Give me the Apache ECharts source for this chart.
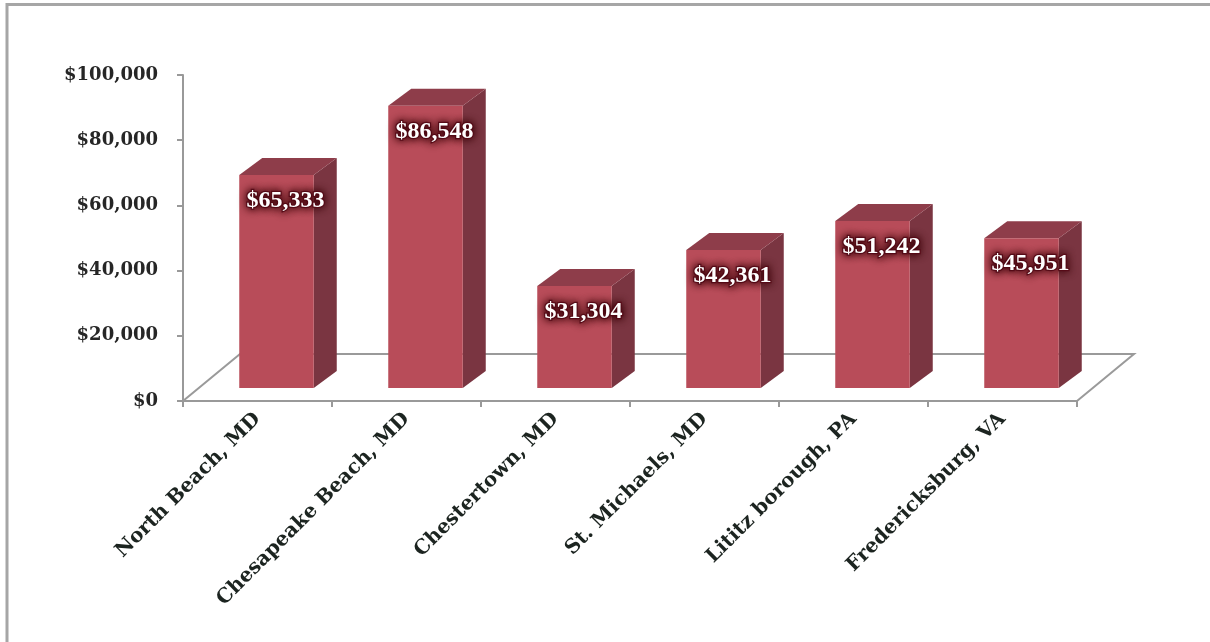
<!DOCTYPE html>
<html>
<head>
<meta charset="utf-8">
<script src="https://cdn.jsdelivr.net/npm/echarts@6/dist/echarts.min.js"></script>
<style>html,body{margin:0;padding:0;background:#fff;}#chart{width:1210px;height:642px;}</style>
</head>
<body>
<div id="chart"></div>
<script>
const categories = ['North Beach, MD', 'Chesapeake Beach, MD', 'Chestertown, MD', 'St. Michaels, MD', 'Lititz borough, PA', 'Fredericksburg, VA'];
const values = [65333, 86548, 31304, 42361, 51242, 45951];
const yTicks = [0, 20000, 40000, 60000, 80000, 100000];

const chart = echarts.init(document.getElementById('chart'));
const fmt = v => '$' + v.toLocaleString('en-US');

const DX = 23, DY = -17;      // bar depth offset
const FDX = 57, FDY = -47;    // floor depth offset
const SHIFT_X = 19, SHIFT_Y = -13;

function renderBar(params, api) {
  const idx = api.value(0), v = api.value(1);
  const top = api.coord([idx, v]);
  const base = api.coord([idx, 0]);
  const bw = api.size([1, 0])[0] * 0.5;
  const cx = top[0] + SHIFT_X;
  const x0 = cx - bw / 2, x1 = cx + bw / 2;
  const yb = base[1] + SHIFT_Y, yt = top[1] + SHIFT_Y;
  return {
    type: 'group',
    children: [
      { type: 'polygon', shape: { points: [[x1, yb], [x1 + DX, yb + DY], [x1 + DX, yt + DY], [x1, yt]] },
        style: { fill: '#7a3541' } },
      { type: 'polygon', shape: { points: [[x0, yt], [x0 + DX, yt + DY], [x1 + DX, yt + DY], [x1, yt]] },
        style: { fill: '#8e3d4a' } },
      { type: 'rect', shape: { x: x0, y: yt, width: bw, height: yb - yt },
        style: { fill: '#b84c59' } },
      { type: 'text', x: cx + 9, y: yt + 26,
        style: { text: fmt(v), fill: '#ffffff', font: 'bold 24px "Liberation Serif", serif',
          align: 'center', verticalAlign: 'middle',
          textShadowColor: '#3a0008', textShadowBlur: 9,
          stroke: '#5e0e1c', lineWidth: 2.5 } }
    ]
  };
}

function renderFloor(params, api) {
  const cs = params.coordSys;
  const xl = cs.x, xr = cs.x + cs.width, yb = cs.y + cs.height;
  return {
    type: 'polyline',
    shape: { points: [[xr, yb], [xr + FDX, yb + FDY], [xl + FDX, yb + FDY], [xl, yb]] },
    style: { stroke: '#9a9a9a', lineWidth: 2, fill: null }
  };
}

chart.setOption({
  backgroundColor: '#ffffff',
  animation: false,
  grid: { left: 183, right: 133, top: 75, bottom: 241 },
  xAxis: {
    type: 'category',
    data: categories,
    boundaryGap: true,
    axisLine: { lineStyle: { color: '#999999', width: 2 } },
    axisTick: { show: true, interval: 0, length: 6, lineStyle: { color: '#999999', width: 2 } },
    axisLabel: { interval: 0, rotate: 45, margin: 15, color: '#1c2420',
      fontFamily: '"DejaVu Serif", serif', fontWeight: 'bold', fontSize: 20 }
  },
  yAxis: {
    type: 'value',
    min: yTicks[0], max: yTicks[yTicks.length - 1], interval: 20000,
    splitLine: { show: false },
    axisLine: { show: true, lineStyle: { color: '#999999', width: 2 } },
    axisTick: { show: true, length: 6, lineStyle: { color: '#999999', width: 2 } },
    axisLabel: { formatter: fmt, margin: 25, color: '#262626',
      fontFamily: '"DejaVu Serif", serif', fontWeight: 'bold', fontSize: 18 }
  },
  graphic: [
    { type: 'polyline', shape: { points: [[7, 642], [7, 4.5], [1210, 4.5]] },
      style: { stroke: '#a6a6a6', lineWidth: 3, fill: null }, z: 10 }
  ],
  series: [
    { type: 'custom', renderItem: renderFloor, data: [[0, 0]], z: 1, silent: true },
    { type: 'custom', renderItem: renderBar, data: values.map((v, i) => [i, v]), z: 2 }
  ]
});
</script>
</body>
</html>
